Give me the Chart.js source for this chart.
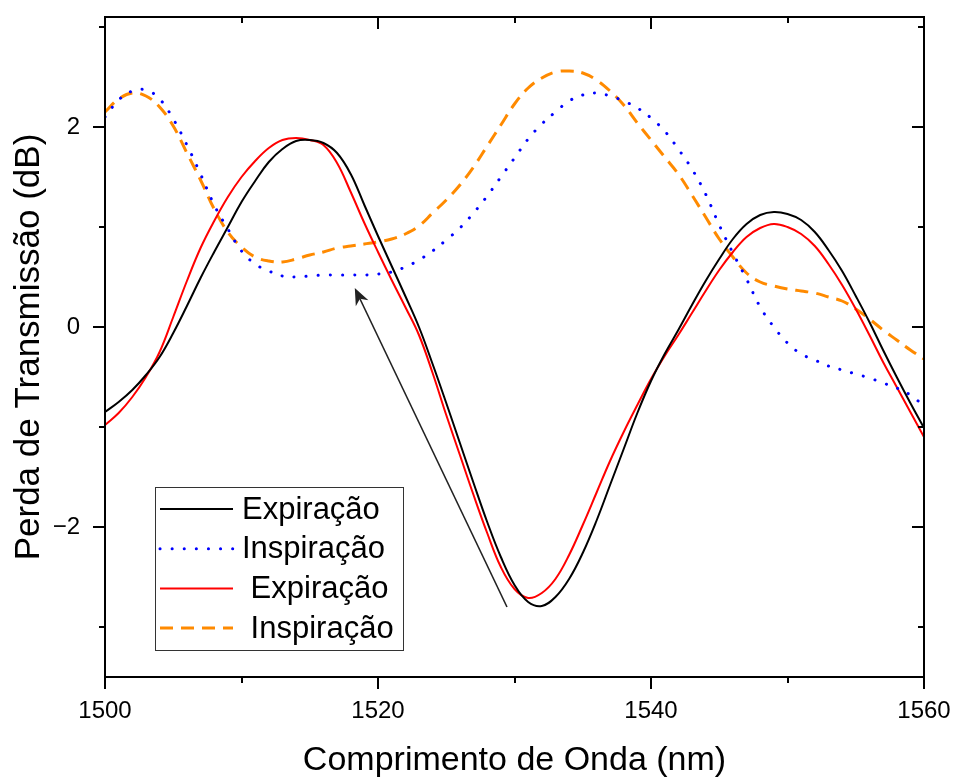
<!DOCTYPE html>
<html>
<head>
<meta charset="utf-8">
<script src="https://cdn.jsdelivr.net/npm/chart.js@4/dist/chart.umd.min.js"></script>
<style>
  html, body { margin: 0; padding: 0; background: #fff; }
  #wrap { width: 960px; height: 781px; }
</style>
</head>
<body>
<div id="wrap"><canvas id="grafico" width="960" height="781"></canvas></div>
<script>
// comprimento de onda (nm)
const comprimentos = [
  1500, 1501, 1502, 1503, 1504, 1505, 1506, 1507, 1508, 1509,
  1510, 1511, 1512, 1513, 1514, 1515, 1516, 1517, 1518, 1519,
  1520, 1521, 1522, 1523, 1524, 1525, 1526, 1527, 1528, 1529,
  1530, 1531, 1532, 1533, 1534, 1535, 1536, 1537, 1538, 1539,
  1540, 1541, 1542, 1543, 1544, 1545, 1546, 1547, 1548, 1549,
  1550, 1551, 1552, 1553, 1554, 1555, 1556, 1557, 1558, 1559, 1560
];

// perda de transmissao (dB)
const expiracao1 = [
  -0.85, -0.75, -0.63, -0.48, -0.30, -0.06, 0.21, 0.49, 0.75, 1.00,
  1.25, 1.46, 1.65, 1.78, 1.86, 1.87, 1.84, 1.74, 1.53, 1.22,
  0.91, 0.61, 0.31, 0.00, -0.37, -0.76, -1.16, -1.56, -1.95, -2.30,
  -2.58, -2.75, -2.79, -2.70, -2.52, -2.26, -1.94, -1.58, -1.22, -0.86,
  -0.54, -0.27, -0.03, 0.22, 0.46, 0.68, 0.88, 1.03, 1.12, 1.15,
  1.13, 1.07, 0.95, 0.77, 0.56, 0.31, 0.05, -0.23, -0.50, -0.76, -1.01
];
const inspiracao1 = [
  2.10, 2.27, 2.36, 2.37, 2.28, 2.08, 1.82, 1.53, 1.22, 0.98,
  0.76, 0.63, 0.56, 0.51, 0.50, 0.51, 0.52, 0.52, 0.52, 0.52,
  0.53, 0.55, 0.60, 0.67, 0.76, 0.87, 0.99, 1.14, 1.31, 1.50,
  1.69, 1.88, 2.03, 2.15, 2.26, 2.32, 2.34, 2.31, 2.26, 2.19,
  2.09, 1.96, 1.78, 1.58, 1.33, 1.02, 0.74, 0.48, 0.20, 0.00,
  -0.16, -0.27, -0.33, -0.39, -0.43, -0.47, -0.51, -0.56, -0.61, -0.68, -0.79
];
const expiracao2 = [
  -0.98, -0.86, -0.70, -0.50, -0.25, 0.10, 0.46, 0.79, 1.06, 1.30,
  1.50, 1.66, 1.79, 1.87, 1.89, 1.87, 1.82, 1.64, 1.35, 1.04,
  0.75, 0.47, 0.20, -0.08, -0.46, -0.88, -1.28, -1.68, -2.06, -2.40,
  -2.62, -2.71, -2.66, -2.52, -2.28, -1.98, -1.66, -1.34, -1.05, -0.78,
  -0.52, -0.29, -0.08, 0.14, 0.36, 0.57, 0.75, 0.90, 0.99, 1.03,
  1.00, 0.93, 0.81, 0.63, 0.42, 0.18, -0.08, -0.35, -0.60, -0.85, -1.10
];
const inspiracao2 = [
  2.15, 2.28, 2.34, 2.31, 2.20, 2.01, 1.74, 1.47, 1.18, 0.95,
  0.80, 0.70, 0.66, 0.65, 0.68, 0.72, 0.75, 0.79, 0.81, 0.83,
  0.85, 0.88, 0.93, 1.01, 1.14, 1.27, 1.42, 1.60, 1.81, 2.02,
  2.23, 2.39, 2.49, 2.55, 2.56, 2.54, 2.47, 2.36, 2.22, 2.04,
  1.87, 1.70, 1.53, 1.32, 1.10, 0.88, 0.70, 0.54, 0.45, 0.41,
  0.38, 0.36, 0.34, 0.30, 0.26, 0.18, 0.08, -0.03, -0.13, -0.23, -0.32
];

const legendas = ['Expiração', 'Inspiração', ' Expiração', ' Inspiração'];
const ticksX = [1500, 1510, 1520, 1530, 1540, 1550, 1560];
const ticksY = [-3, -2, -1, 0, 1, 2, 3];

// seta (coordenadas nos eixos do grafico)
const setaInicio = [1529.45, -2.80];
const setaFim = [1518.3, 0.39];

const pontos = serie => comprimentos.map((c, i) => ({ x: c, y: serie[i] }));

const fonte = '"Liberation Sans", Arial, sans-serif';
Chart.defaults.font.family = fonte;
Chart.defaults.color = '#000';

const moldura = {
  id: 'moldura',
  afterDraw(chart) {
    const { ctx, chartArea: a, scales: { x, y } } = chart;
    ctx.save();
    ctx.strokeStyle = '#000';
    ctx.lineWidth = 2;
    ctx.strokeRect(a.left, a.top, a.right - a.left, a.bottom - a.top);
    ctx.beginPath();
    ticksX.forEach(v => {
      const px = Math.round(x.getPixelForValue(v));
      const len = v % 20 === 0 ? 12 : 6;
      ctx.moveTo(px, a.bottom); ctx.lineTo(px, a.bottom + len);
      ctx.moveTo(px, a.top); ctx.lineTo(px, a.top + len);
    });
    ticksY.forEach(v => {
      const py = Math.round(y.getPixelForValue(v));
      const len = v % 2 === 0 ? 12 : 6;
      ctx.moveTo(a.left, py); ctx.lineTo(a.left - len, py);
      ctx.moveTo(a.right, py); ctx.lineTo(a.right - len, py);
    });
    ctx.stroke();
    ctx.restore();
  }
};

const seta = {
  id: 'seta',
  afterDatasetsDraw(chart) {
    const { ctx, scales: { x, y } } = chart;
    const x0 = x.getPixelForValue(setaInicio[0]), y0 = y.getPixelForValue(setaInicio[1]);
    const x1 = x.getPixelForValue(setaFim[0]), y1 = y.getPixelForValue(setaFim[1]);
    const ang = Math.atan2(y1 - y0, x1 - x0);
    const hl = 17;
    ctx.save();
    ctx.strokeStyle = '#222';
    ctx.fillStyle = '#222';
    ctx.lineWidth = 1.6;
    ctx.beginPath();
    ctx.moveTo(x0, y0);
    ctx.lineTo(x1 - hl * 0.7 * Math.cos(ang), y1 - hl * 0.7 * Math.sin(ang));
    ctx.stroke();
    ctx.translate(x1, y1);
    ctx.rotate(ang);
    ctx.beginPath();
    ctx.moveTo(0, 0);
    ctx.lineTo(-hl, -7);
    ctx.lineTo(-hl * 0.7, 0);
    ctx.lineTo(-hl, 7);
    ctx.closePath();
    ctx.fill();
    ctx.restore();
  }
};

const legenda = {
  id: 'legenda',
  afterDraw(chart) {
    const { ctx, chartArea: a } = chart;
    const bx = a.left + 50, by = a.top + 470, bw = 248, bh = 163;
    ctx.save();
    ctx.fillStyle = '#fff';
    ctx.fillRect(bx, by, bw, bh);
    ctx.strokeStyle = '#333';
    ctx.lineWidth = 1;
    ctx.strokeRect(bx + 0.5, by + 0.5, bw, bh);
    ctx.font = '31px ' + fonte;
    ctx.textBaseline = 'middle';
    chart.data.datasets.forEach((ds, i) => {
      const cy = by + 22 + i * 39.7;
      ctx.strokeStyle = ds.borderColor;
      ctx.lineWidth = ds.borderWidth;
      ctx.setLineDash(ds.borderDash || []);
      ctx.lineCap = ds.borderCapStyle || 'butt';
      ctx.beginPath();
      ctx.moveTo(bx + 5, cy);
      ctx.lineTo(bx + 78, cy);
      ctx.stroke();
      ctx.setLineDash([]);
      ctx.fillStyle = '#000';
      ctx.fillText(ds.label, bx + 87, cy + 1);
    });
    ctx.restore();
  }
};

new Chart(document.getElementById('grafico'), {
  type: 'line',
  data: {
    datasets: [
      { label: legendas[0], data: pontos(expiracao1), borderColor: '#000000', borderWidth: 2 },
      { label: legendas[1], data: pontos(inspiracao1), borderColor: '#0000ff', borderWidth: 3,
        borderDash: [0.1, 12], borderCapStyle: 'round' },
      { label: legendas[2], data: pontos(expiracao2), borderColor: '#ff0000', borderWidth: 2 },
      { label: legendas[3], data: pontos(inspiracao2), borderColor: '#ff8a00', borderWidth: 3,
        borderDash: [13, 8] }
    ]
  },
  options: {
    responsive: false,
    animation: false,
    devicePixelRatio: 1,
    layout: { padding: { top: 17, right: 36, left: 0, bottom: 0 } },
    elements: {
      point: { radius: 0 },
      line: { tension: 0.4, fill: false }
    },
    plugins: {
      legend: { display: false },
      tooltip: { enabled: false }
    },
    scales: {
      x: {
        type: 'linear',
        min: 1500,
        max: 1560,
        grid: { display: false, drawTicks: false },
        border: { display: false },
        ticks: {
          stepSize: 20, font: { size: 24 }, padding: 20, maxRotation: 0, autoSkip: false,
          callback: v => String(v)
        },
        title: { display: true, text: 'Comprimento de Onda (nm)', font: { size: 34 }, padding: { top: 0, bottom: 0 } },
        afterFit(s) { s.height = 104; s.paddingLeft = 0; s.paddingRight = 0; }
      },
      y: {
        min: -3.5,
        max: 3.1,
        grid: { display: false, drawTicks: false },
        border: { display: false },
        ticks: {
          stepSize: 2,
          font: { size: 24 },
          padding: 25,
          callback: v => {
            if (!Number.isInteger(v) || v % 2 !== 0) return '';
            return v < 0 ? '\u2212' + Math.abs(v) : String(v);
          }
        },
        title: { display: true, text: 'Perda de Transmissão (dB)', font: { size: 35 }, padding: { top: 8, bottom: 0 } },
        afterFit(s) { s.width = 105; s.paddingTop = 0; s.paddingBottom = 0; }
      }
    }
  },
  plugins: [seta, moldura, legenda]
});
</script>
</body>
</html>
